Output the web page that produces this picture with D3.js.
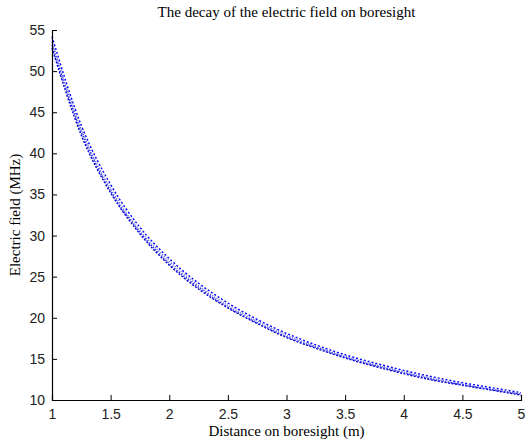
<!DOCTYPE html>
<html>
<head>
<meta charset="utf-8">
<script src="https://cdn.jsdelivr.net/npm/d3@7"></script>
<style>
  body { margin: 0; background: #fff; }
  svg { display: block; }
  .tick text { font-family: "Liberation Sans", Arial, sans-serif; font-size: 14px; fill: #222; }
  .lbl { font-family: "Liberation Serif", "Times New Roman", serif; font-size: 15px; fill: #000; }
</style>
</head>
<body>
<div id="chart"></div>
<script>
// distance on boresight (m)
const distance = [1, 1.25, 1.5, 1.75, 2, 2.25, 2.5, 2.75, 3, 3.25, 3.5, 3.75, 4, 4.25, 4.5, 4.75, 5];
// electric field readings, several near-identical traces
const fieldA = [54.2, 43.4, 36.2, 31.0, 27.2, 24.2, 21.8, 19.8, 18.1, 16.7, 15.5, 14.5, 13.6, 12.8, 12.1, 11.5, 10.9];
const fieldB = [53.6, 42.9, 35.7, 30.6, 26.9, 23.9, 21.5, 19.6, 17.9, 16.5, 15.3, 14.3, 13.4, 12.6, 11.9, 11.3, 10.75];
const fieldC = [52.8, 42.2, 35.2, 30.2, 26.4, 23.5, 21.2, 19.3, 17.6, 16.3, 15.1, 14.1, 13.2, 12.4, 11.8, 11.2, 10.6];
const fieldD = [53.2, 42.6, 35.4, 30.4, 26.6, 23.7, 21.3, 19.4, 17.7, 16.4, 15.2, 14.2, 13.3, 12.5, 11.85, 11.25, 10.7];
const xTicks = [1, 1.5, 2, 2.5, 3, 3.5, 4, 4.5, 5];
const yTicks = [10, 15, 20, 25, 30, 35, 40, 45, 50, 55];

const W = 526, H = 442;
const margin = { top: 30, right: 5, bottom: 42, left: 52 };

const svg = d3.select("#chart").append("svg")
  .attr("width", W).attr("height", H);

const x = d3.scaleLinear().domain([1, 5]).range([margin.left, W - margin.right]);
const y = d3.scaleLinear().domain([10, 55]).range([H - margin.bottom, margin.top]);

// traces
const series = [
  { v: fieldA, c: "#0000ff", d: "2,2" },
  { v: fieldB, c: "#6666dd", d: "1,1.5" },
  { v: fieldC, c: "#0000cc", d: "2,1.5" },
  { v: fieldD, c: "#3333ee", d: "1.5,1.5" }
];
const line = d3.line().curve(d3.curveMonotoneX);
series.forEach(s => {
  svg.append("path")
    .attr("d", line(distance.map((d, i) => [x(d), y(s.v[i])])))
    .attr("fill", "none")
    .attr("stroke", s.c)
    .attr("stroke-width", 1.4)
    .attr("stroke-dasharray", s.d);
});

// axes with inward ticks
const xAxis = svg.append("g")
  .attr("transform", `translate(0,${H - margin.bottom})`)
  .call(d3.axisBottom(x).tickValues(xTicks).tickSize(-5).tickPadding(9).tickFormat(d3.format("")));
const yAxis = svg.append("g")
  .attr("transform", `translate(${margin.left},0)`)
  .call(d3.axisLeft(y).tickValues(yTicks).tickSize(-5).tickPadding(7).tickFormat(d3.format("")));
[xAxis, yAxis].forEach(g => {
  g.select(".domain").attr("stroke", "#000").attr("stroke-width", 1.2);
  g.selectAll(".tick line").attr("stroke", "#000");
});
xAxis.selectAll(".tick text").attr("dy", "0.71em");

svg.append("text").attr("class", "lbl")
  .attr("x", (margin.left + W - margin.right) / 2).attr("y", 17)
  .attr("text-anchor", "middle")
  .text("The decay of the electric field on boresight");
svg.append("text").attr("class", "lbl")
  .attr("x", (margin.left + W - margin.right) / 2).attr("y", 436)
  .attr("text-anchor", "middle")
  .text("Distance on boresight (m)");
svg.append("text").attr("class", "lbl")
  .attr("transform", `translate(20,${(margin.top + H - margin.bottom) / 2}) rotate(-90)`)
  .attr("text-anchor", "middle")
  .text("Electric field (MHz)");
</script>
</body>
</html>
